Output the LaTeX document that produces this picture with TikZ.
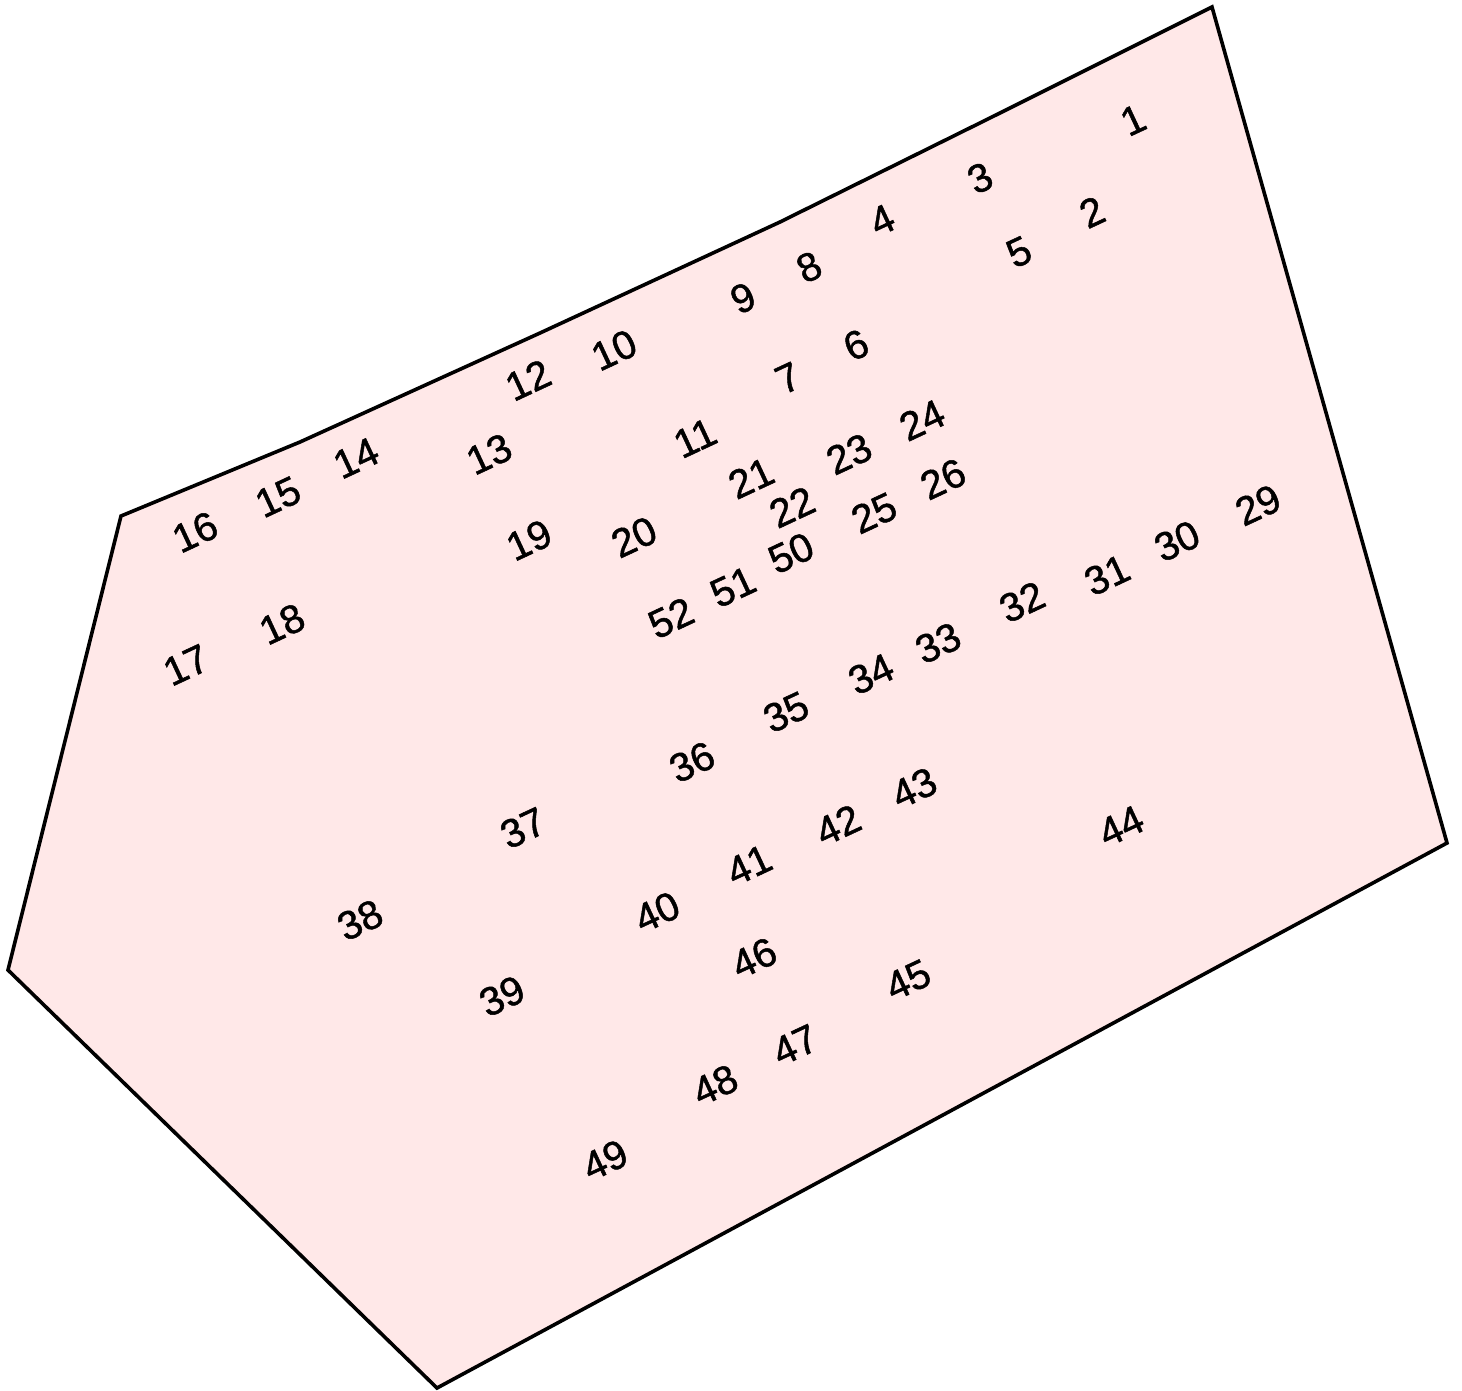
\documentclass[tikz,border=0pt]{standalone}
\usepackage{fontspec}
\setmainfont{Liberation Sans}
\newfontfamily\lblfont[FakeBold=1.2]{Liberation Sans}
\usepackage{tikz}
\definecolor{rosefill}{RGB}{255,232,232}
\tikzstyle{lbl}=[inner sep=0, rotate=25, font=\lblfont\fontsize{40}{48}\selectfont]
\tikzstyle{region}=[draw=black, line width=3.6pt, line join=miter, fill=rosefill]

\begin{document}
\begin{tikzpicture}[x=1pt,y=-1pt]
\useasboundingbox (0,0) rectangle (1462,1390);
\coordinate (p1) at (121,516);
\coordinate (p2) at (300,442);
\coordinate (p3) at (540,333);
\coordinate (p4) at (780,222);
\coordinate (p5) at (1000,113);
\coordinate (p6) at (1212,7);
\coordinate (p7) at (1447,843);
\coordinate (p8) at (437,1388);
\coordinate (p9) at (8,970);
\draw[region] (p1)--(p2)--(p3)--(p4)--(p5)--(p6)--(p7)--(p8)--(p9)--cycle;
\draw (1133,120) node[lbl](n1) {1};
\draw (1092,212) node[lbl](n2) {2};
\draw (980,178) node[lbl](n3) {3};
\draw (882,220) node[lbl](n4) {4};
\draw (1019,252) node[lbl](n5) {5};
\draw (856,345) node[lbl](n6) {6};
\draw (788,378) node[lbl](n7) {7};
\draw (809,267) node[lbl](n8) {8};
\draw (743,298) node[lbl](n9) {9};
\draw (614,350) node[lbl](n10) {10};
\draw (695,438) node[lbl](n11) {11};
\draw (528,380) node[lbl](n12) {12};
\draw (489,454) node[lbl](n13) {13};
\draw (356,458) node[lbl](n14) {14};
\draw (278,497) node[lbl](n15) {15};
\draw (195,532) node[lbl](n16) {16};
\draw (186,665) node[lbl](n17) {17};
\draw (282,624) node[lbl](n18) {18};
\draw (529,540) node[lbl](n19) {19};
\draw (634,537) node[lbl](n20) {20};
\draw (751,478) node[lbl](n21) {21};
\draw (792,507) node[lbl](n22) {22};
\draw (849,454) node[lbl](n23) {23};
\draw (922,420) node[lbl](n24) {24};
\draw (874,513) node[lbl](n25) {25};
\draw (943,479) node[lbl](n26) {26};
\draw (1258,505) node[lbl](n29) {29};
\draw (1177,541) node[lbl](n30) {30};
\draw (1107,575) node[lbl](n31) {31};
\draw (1022,602) node[lbl](n32) {32};
\draw (938,643) node[lbl](n33) {33};
\draw (871,674) node[lbl](n34) {34};
\draw (786,712) node[lbl](n35) {35};
\draw (692,762) node[lbl](n36) {36};
\draw (523,828) node[lbl](n37) {37};
\draw (360,920) node[lbl](n38) {38};
\draw (502,996) node[lbl](n39) {39};
\draw (657,912) node[lbl](n40) {40};
\draw (749,865) node[lbl](n41) {41};
\draw (838,825) node[lbl](n42) {42};
\draw (914,788) node[lbl](n43) {43};
\draw (1121,826) node[lbl](n44) {44};
\draw (908,980) node[lbl](n45) {45};
\draw (754,958) node[lbl](n46) {46};
\draw (795,1045) node[lbl](n47) {47};
\draw (715,1085) node[lbl](n48) {48};
\draw (605,1160) node[lbl](n49) {49};
\draw (791,553) node[lbl](n50) {50};
\draw (733,587) node[lbl](n51) {51};
\draw (671,618) node[lbl](n52) {52};
\end{tikzpicture}
\end{document}
